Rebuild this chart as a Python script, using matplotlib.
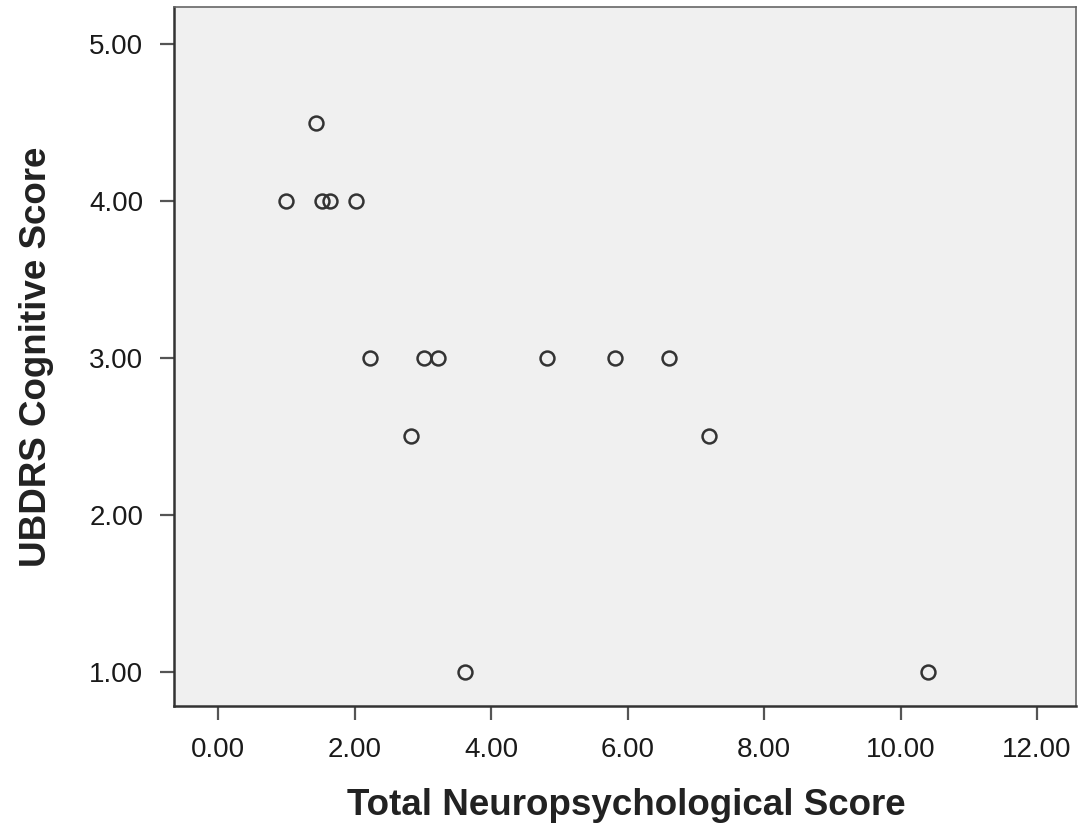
import matplotlib
matplotlib.use("Agg")
import matplotlib.pyplot as plt

plt.rcParams['font.family'] = ['Liberation Sans', 'DejaVu Sans']

neuro_score = [1.0, 1.44, 1.52, 1.64, 2.02, 2.23, 2.82, 3.02, 3.23, 3.62, 4.82, 5.81, 6.61, 7.2, 10.4]
ubdrs_score = [4.0, 4.5, 4.0, 4.0, 4.0, 3.0, 2.5, 3.0, 3.0, 1.0, 3.0, 3.0, 3.0, 2.5, 1.0]
x_ticks = [0, 2, 4, 6, 8, 10, 12]
y_ticks = [1, 2, 3, 4, 5]

fig = plt.figure(figsize=(10.79, 8.30), dpi=100)
ax = fig.add_axes([174/1079, 1 - 706/830, (1076-174)/1079, (706-7)/830])
ax.set_facecolor('#f0f0f0')

ax.plot(neuro_score, ubdrs_score, linestyle='none', marker='o', markersize=10,
        markerfacecolor='none', markeredgecolor='#333333', markeredgewidth=1.8)

ax.set_xlim(-0.645, 12.57)
ax.set_ylim(0.783, 5.236)
ax.set_xticks(x_ticks)
ax.set_xticklabels([f"{v:.2f}" for v in x_ticks])
ax.set_yticks(y_ticks)
ax.set_yticklabels([f"{v:.2f}" for v in y_ticks])

for s in ['left', 'bottom']:
    ax.spines[s].set_linewidth(1.8)
    ax.spines[s].set_color('#333333')
for s in ['top', 'right']:
    ax.spines[s].set_linewidth(1.2)
    ax.spines[s].set_color('#666666')

ax.tick_params(axis='both', direction='out', length=10, width=1.6, color='#555555',
               labelsize=20, labelcolor='#1a1a1a', pad=12)

ax.set_xlabel('Total Neuropsychological Score', fontsize=26.5, fontweight='bold',
              color='#222222')
ax.set_ylabel('UBDRS Cognitive Score', fontsize=26.5, fontweight='bold',
              color='#222222')
ax.xaxis.label.set_va('center')
ax.yaxis.label.set_va('center')
ax.xaxis.set_label_coords(0.502, -0.143)
ax.yaxis.set_label_coords(-0.152, 0.499)

fig.savefig('out.png', dpi=100)
